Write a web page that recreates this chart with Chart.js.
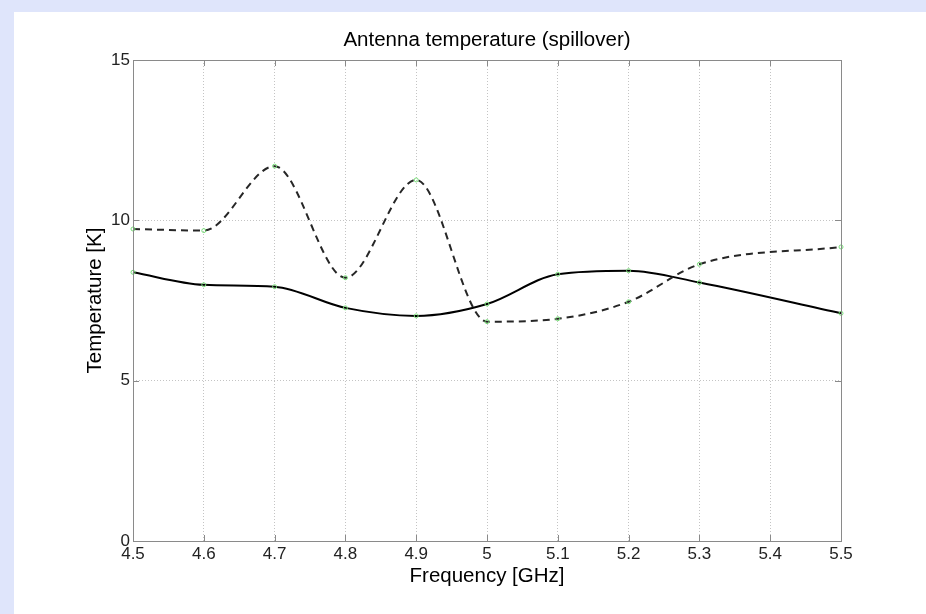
<!DOCTYPE html>
<html>
<head>
<meta charset="utf-8">
<script src="https://cdn.jsdelivr.net/npm/chart.js@4/dist/chart.umd.min.js"></script>
<style>
    html, body { margin: 0; padding: 0; }
    body { width: 926px; height: 614px; background: #dfe5fb; overflow: hidden; position: relative; }
    #box { position: absolute; left: 14px; top: 12px; width: 912px; height: 602px; background: #fff; }
    canvas { display: block; }
</style>
</head>
<body>
<div id="box"><canvas id="chartTemp" width="912" height="602"></canvas></div>
<script>
(function() {
    'use strict';

    // frequencies where the samples were taken [GHz]
    const frequencias = [4.5, 4.6, 4.7, 4.8, 4.9, 5.0, 5.1, 5.2, 5.3, 5.5];
    // solid curve [K]
    const tempSolida = [8.38, 7.99, 7.93, 7.27, 7.02, 7.39, 8.32, 8.43, 8.06, 7.10];
    // dashed curve [K]
    const tempTracejada = [9.73, 9.68, 11.69, 8.21, 11.26, 6.84, 6.93, 7.46, 8.63, 9.17];

    const xTicks = [4.5, 4.6, 4.7, 4.8, 4.9, 5.0, 5.1, 5.2, 5.3, 5.4, 5.5];
    const xTickLabels = ['4.5', '4.6', '4.7', '4.8', '4.9', '5', '5.1', '5.2', '5.3', '5.4', '5.5'];
    const yTicks = [0, 5, 10, 15];
    const yTickLabels = ['0', '5', '10', '15'];

    const fonte = '"Liberation Sans", Arial, Helvetica, sans-serif';

    function pontos(ys) {
        return frequencias.map((x, i) => ({ x: x, y: ys[i] }));
    }

    // box around the plot + small inward ticks, like matlab
    const caixa = {
        id: 'caixa',
        afterDraw(chart) {
            const a = chart.chartArea;
            const ctx = chart.ctx;
            const sx = chart.scales.x, sy = chart.scales.y;
            ctx.save();
            ctx.strokeStyle = '#8a8a8a';
            ctx.lineWidth = 1;
            ctx.setLineDash([]);
            ctx.strokeRect(Math.round(a.left) + 0.5, Math.round(a.top) + 0.5,
                Math.round(a.right - a.left), Math.round(a.bottom - a.top));
            ctx.beginPath();
            xTicks.forEach(v => {
                const px = Math.round(sx.getPixelForValue(v)) + 0.5;
                ctx.moveTo(px, a.bottom); ctx.lineTo(px, a.bottom - 6);
                ctx.moveTo(px, a.top); ctx.lineTo(px, a.top + 6);
            });
            yTicks.forEach(v => {
                const py = Math.round(sy.getPixelForValue(v)) + 0.5;
                ctx.moveTo(a.left, py); ctx.lineTo(a.left + 6, py);
                ctx.moveTo(a.right, py); ctx.lineTo(a.right - 6, py);
            });
            ctx.stroke();
            ctx.restore();
        }
    };

    const ctx = document.getElementById('chartTemp');

    new Chart(ctx.getContext('2d'), {
        type: 'line',
        data: {
            datasets: [{
                data: pontos(tempTracejada),
                borderColor: '#262626',
                borderWidth: 2,
                borderDash: [7, 5],
                cubicInterpolationMode: 'monotone',
                pointRadius: 2,
                pointBorderColor: '#77dd77',
                pointBackgroundColor: 'rgba(0,0,0,0)',
                pointBorderWidth: 1,
                clip: false
            }, {
                data: pontos(tempSolida),
                borderColor: '#000',
                borderWidth: 2,
                cubicInterpolationMode: 'monotone',
                pointRadius: 2,
                pointBorderColor: '#77dd77',
                pointBackgroundColor: 'rgba(0,0,0,0)',
                pointBorderWidth: 1,
                clip: false
            }]
        },
        plugins: [caixa],
        options: {
            responsive: false,
            animation: false,
            layout: {
                padding: { left: 69, right: 85, top: 0, bottom: 25 }
            },
            plugins: {
                legend: { display: false },
                tooltip: { enabled: false },
                title: {
                    display: true,
                    fullSize: false,
                    text: 'Antenna temperature (spillover)',
                    color: '#000',
                    font: { family: fonte, size: 20.5, weight: 'normal' },
                    padding: { top: 15.7, bottom: 7.7 }
                }
            },
            scales: {
                x: {
                    type: 'linear',
                    min: 4.5,
                    max: 5.5,
                    afterBuildTicks: s => { s.ticks = xTicks.map(v => ({ value: v })); },
                    afterFit: s => { s.height = 48; },
                    ticks: {
                        color: '#222',
                        padding: 3,
                        maxRotation: 0,
                        font: { family: fonte, size: 17 },
                        callback: (v, i) => xTickLabels[i]
                    },
                    grid: { color: '#c4c4c4', lineWidth: 1, drawTicks: false },
                    border: { display: false, dash: [1, 2] },
                    title: {
                        display: true,
                        text: 'Frequency [GHz]',
                        color: '#000',
                        font: { family: fonte, size: 20.5 },
                        padding: 0
                    }
                },
                y: {
                    min: 0,
                    max: 15,
                    afterBuildTicks: s => { s.ticks = yTicks.map(v => ({ value: v })); },
                    afterFit: s => { s.width = 50; },
                    ticks: {
                        color: '#222',
                        padding: 3,
                        font: { family: fonte, size: 17 },
                        callback: (v, i) => yTickLabels[i]
                    },
                    grid: { color: '#c4c4c4', lineWidth: 1, drawTicks: false },
                    border: { display: false, dash: [1, 2] },
                    title: {
                        display: true,
                        text: 'Temperature [K]',
                        color: '#000',
                        font: { family: fonte, size: 20.5 },
                        padding: 0
                    }
                }
            }
        }
    });
})();
</script>
</body>
</html>
